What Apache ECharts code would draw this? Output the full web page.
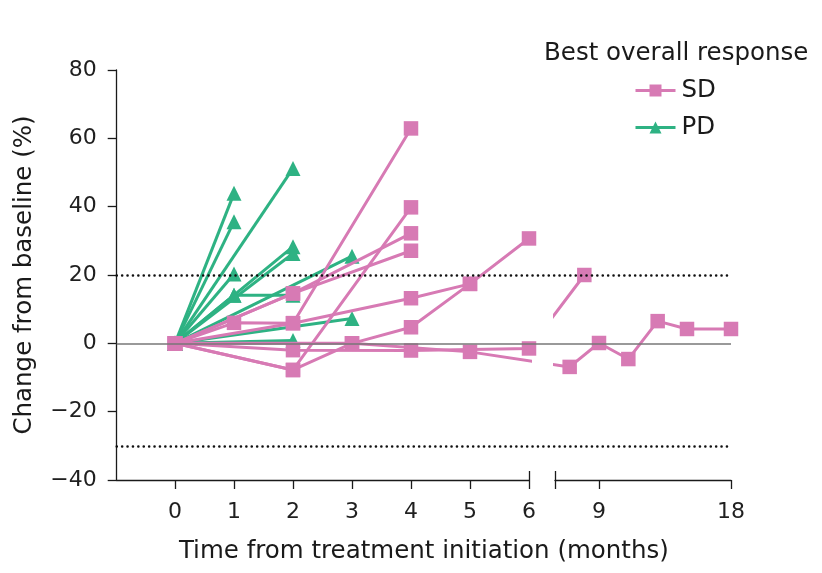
<!DOCTYPE html>
<html>
<head>
<meta charset="utf-8">
<title>Best overall response</title>
<script src="https://cdn.jsdelivr.net/npm/echarts@6/dist/echarts.min.js"></script>
<style>
  html, body { margin: 0; padding: 0; background: #fff; }
  #chart { width: 822px; height: 573px; }
</style>
</head>
<body>
<div id="chart"></div>
<script>
(function () {
  'use strict'

  // one row per patient: months since treatment start / % change from baseline
  const SD_MONTHS = [
    [0, 2, 4],
    [0, 2, 4],
    [0, 1, 2, 4],
    [0, 2, 4, 5],
    [0, 2, 4],
    [0, 2, 3, 4, 5, 6],
    [0, 2, 4, 6, 8],
    [0, 3, 5, 7, 9, 11, 13, 15, 18]
  ]
  const SD_CHANGE = [
    [0, 14.6, 32.2],
    [0, 14.6, 27.1],
    [0, 6.0, 5.9, 62.9],
    [0, 5.9, 13.2, 17.4],
    [0, -7.8, 39.8],
    [0, -7.8, 0, 4.7, 17.4, 30.7],
    [0, -2.0, -2.1, -1.5, 20.0],
    [0, 0, -2.5, -6.9, 0.1, -4.6, 6.5, 4.2, 4.2]
  ]
  const PD_MONTHS = [
    [0, 1], [0, 1], [0, 2], [0, 1], [0, 1, 2],
    [0, 1, 2], [0, 2], [0, 3], [0, 3], [0, 2]
  ]
  const PD_CHANGE = [
    [0, 43.9], [0, 35.6], [0, 51.2], [0, 20.3], [0, 14.1, 14.1],
    [0, 14.1, 28.3], [0, 26.3], [0, 25.5], [0, 7.3], [0, 0.8]
  ]
  const X_TICKS_NEAR = [0, 1, 2, 3, 4, 5, 6]
  const X_TICKS_FAR = [9, 18]
  const REF_LINES = [20, -30]

  const PINK = '#d77ab4'
  const GREEN = '#2eb283'
  const INK = '#1a1a1a'
  const FONT = 'DejaVu Sans'

  // broken x axis: 0-6 months at full scale, then 6-18 compressed.
  // both panels share one axis unit so lines crossing the gap stay straight
  const PX_PER_MONTH = 59
  const NEAR_MIN = -58.3 / PX_PER_MONTH
  const FAR_START = 380 / PX_PER_MONTH
  const FAR_SCALE = 14.67 / PX_PER_MONTH

  function toAxis (m) {
    return m <= 6 ? m : FAR_START + (m - 6) * FAR_SCALE
  }

  function fromAxis (v) {
    return v <= 6 ? v : 6 + (v - FAR_START) / FAR_SCALE
  }

  const FAR_MAX = toAxis(18)

  const GRID_TOP = 70
  const GRID_H = 410

  function pairs (months, change) {
    return months.map((m, i) => [toAxis(m), change[i]])
  }

  function patientSeries (name, months, change, symbol, size, color, xIdx, yIdx) {
    return {
      type: 'line',
      name,
      xAxisIndex: xIdx,
      yAxisIndex: yIdx,
      data: pairs(months, change),
      symbol,
      symbolSize: size,
      showSymbol: true,
      clip: true,
      itemStyle: { color },
      lineStyle: { color, width: 3 },
      emphasis: { disabled: true },
      z: name === 'SD' ? 4 : 3
    }
  }

  const series = []

  // reference lines across the full width (including the gap)
  series.push({
    type: 'line',
    xAxisIndex: 5,
    yAxisIndex: 2,
    data: [],
    silent: true,
    z: 1,
    markLine: {
      silent: true,
      symbol: 'none',
      label: { show: false },
      animation: false,
      data: [{ yAxis: 0, lineStyle: { color: '#777', width: 1.6, type: 'solid' } }]
        .concat(REF_LINES.map(v => ({
          yAxis: v,
          lineStyle: { color: '#111', width: 2.5, type: [0.1, 5.3], cap: 'round' }
        })))
    }
  })

  PD_MONTHS.forEach((months, i) => {
    series.push(patientSeries('PD', months, PD_CHANGE[i], 'triangle', 15, GREEN, 0, 0))
  })

  SD_MONTHS.forEach((months, i) => {
    series.push(patientSeries('SD', months, SD_CHANGE[i], 'rect', 14.5, PINK, 0, 0))
    if (months[months.length - 1] > 6) {
      series.push(patientSeries('SD', months, SD_CHANGE[i], 'rect', 14.5, PINK, 2, 1))
    }
  })

  const axisLine = { show: true, onZero: false, lineStyle: { color: INK, width: 1.3 } }
  const noLine = { show: false, onZero: false }
  const tickStyle = { color: INK, width: 1.3 }
  const labelStyle = { fontSize: 22, color: '#1f1f1f', fontFamily: FONT }

  function hiddenY (gridIndex) {
    return { type: 'value', gridIndex, min: -40, max: 80, interval: 20, show: false }
  }

  const chart = echarts.init(document.getElementById('chart'))

  chart.setOption({
    animation: false,
    textStyle: { fontFamily: FONT },
    title: {
      text: 'Best overall response',
      left: 539,
      top: 36,
      textStyle: { fontSize: 24.5, fontWeight: 'normal', color: INK, fontFamily: FONT }
    },
    legend: {
      data: ['SD', 'PD'],
      orient: 'vertical',
      left: 629,
      top: 73,
      itemWidth: 40,
      itemHeight: 15,
      itemGap: 12,
      lineStyle: { width: 3 },
      textStyle: { fontSize: 24.5, color: INK, fontFamily: FONT, padding: [0, 0, 0, 1] }
    },
    grid: [
      { left: 116.7, top: GRID_TOP, width: 412.3, height: GRID_H },
      { left: 555, top: GRID_TOP, width: 176, height: GRID_H },
      { left: 116.7, top: GRID_TOP, width: 614.3, height: GRID_H }
    ],
    xAxis: [
      {
        type: 'value',
        gridIndex: 0,
        position: 'bottom',
        min: NEAR_MIN,
        max: 6,
        axisLine,
        splitLine: { show: false },
        axisTick: { show: true, length: 9, lineStyle: tickStyle, customValues: X_TICKS_NEAR },
        axisLabel: Object.assign({ margin: 21, customValues: X_TICKS_NEAR }, labelStyle)
      },
      {
        // upper half of the break mark at 6
        type: 'value',
        gridIndex: 0,
        position: 'bottom',
        min: NEAR_MIN,
        max: 6,
        axisLine: noLine,
        splitLine: { show: false },
        axisTick: { show: true, inside: true, length: 9, lineStyle: tickStyle, customValues: [6] },
        axisLabel: { show: false }
      },
      {
        type: 'value',
        gridIndex: 1,
        position: 'bottom',
        min: FAR_START,
        max: FAR_MAX,
        axisLine,
        splitLine: { show: false },
        axisTick: {
          show: true,
          length: 9,
          lineStyle: tickStyle,
          customValues: [FAR_START].concat(X_TICKS_FAR.map(toAxis))
        },
        axisLabel: Object.assign({
          margin: 21,
          customValues: X_TICKS_FAR.map(toAxis),
          formatter: v => String(Math.round(fromAxis(v)))
        }, labelStyle)
      },
      {
        // upper half of the break mark where the far panel starts
        type: 'value',
        gridIndex: 1,
        position: 'bottom',
        min: FAR_START,
        max: FAR_MAX,
        axisLine: noLine,
        splitLine: { show: false },
        axisTick: { show: true, inside: true, length: 9, lineStyle: tickStyle, customValues: [FAR_START] },
        axisLabel: { show: false }
      },
      {
        type: 'value',
        gridIndex: 2,
        position: 'top',
        min: NEAR_MIN,
        max: FAR_MAX,
        show: false
      },
      {
        type: 'value',
        gridIndex: 2,
        position: 'bottom',
        min: NEAR_MIN,
        max: FAR_MAX,
        axisLine: noLine,
        axisTick: { show: false },
        axisLabel: { show: false },
        splitLine: { show: false },
        name: 'Time from treatment initiation (months)',
        nameLocation: 'middle',
        nameGap: 59,
        nameTextStyle: { fontSize: 24.5, color: INK, fontFamily: FONT }
      }
    ],
    yAxis: [
      {
        type: 'value',
        gridIndex: 0,
        min: -40,
        max: 80,
        interval: 20,
        axisLine,
        splitLine: { show: false },
        axisTick: { show: true, length: 9, lineStyle: tickStyle },
        axisLabel: Object.assign({
          margin: 20,
          formatter: v => (v < 0 ? '\u2212' + Math.abs(v) : String(v))
        }, labelStyle),
        name: 'Change from baseline (%)',
        nameLocation: 'middle',
        nameGap: 80,
        nameTextStyle: { fontSize: 24.5, color: INK, fontFamily: FONT }
      },
      hiddenY(1),
      hiddenY(2)
    ],
    series
  })
})()
</script>
</body>
</html>
